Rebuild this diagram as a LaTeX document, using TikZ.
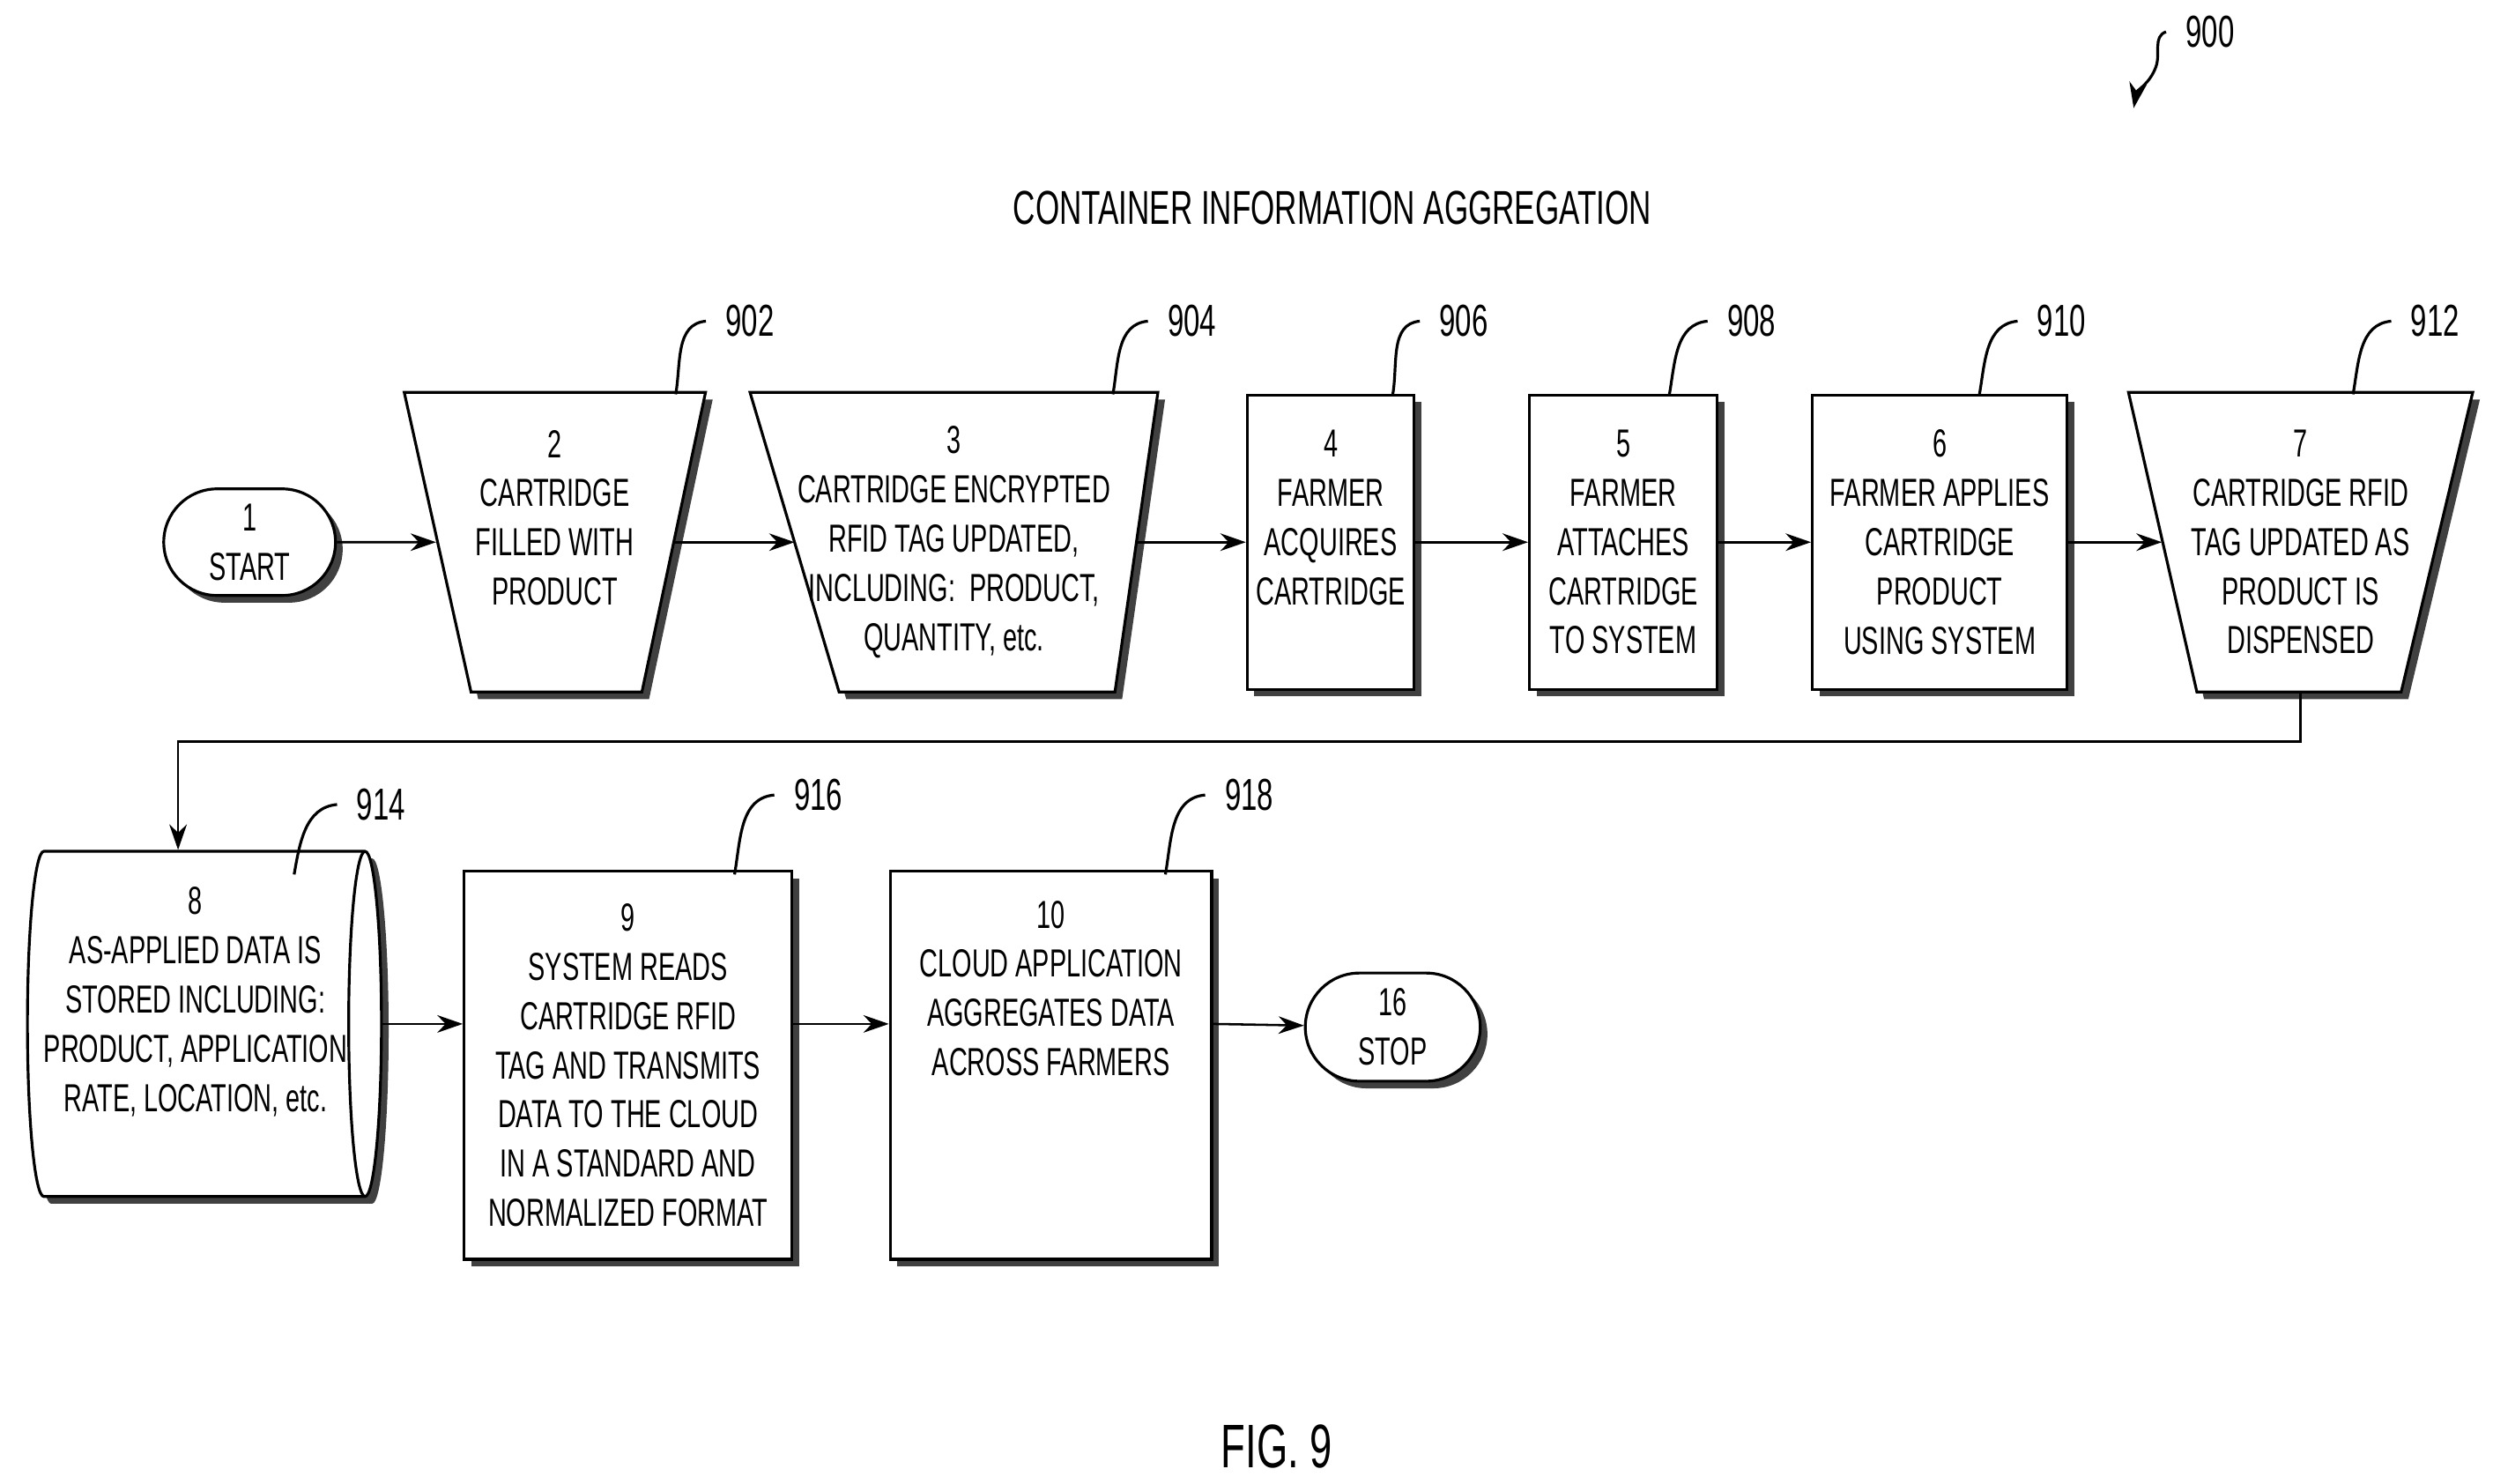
\documentclass[tikz,border=0pt]{standalone}
\usepackage{fontspec}
\setmainfont{Liberation Sans}[FakeStretch=0.65]
\usetikzlibrary{shapes.geometric,shapes.misc,positioning,shadows,arrows.meta,backgrounds}

\begin{document}
\begin{tikzpicture}[x=0.01cm,y=-0.01cm,
            font=\fontsize{7}{8.8}\selectfont,
            >={Stealth[length=1.6mm,width=1.1mm]},
            sh/.style = {drop shadow={shadow xshift=0.45mm,shadow yshift=-0.45mm,
                opacity=1,fill=black!75}},
            box/.style = {draw,fill=white,sh,align=center,inner sep=1pt,line width=0.5pt},
            term/.style = {box,rounded rectangle},
            slot/.style = {align=center,inner sep=0pt},
            ref/.style = {font=\fontsize{8}{9}\selectfont},
            lead/.style = {line width=0.5pt}]
            \useasboundingbox (0,0) rectangle (1568,933);
            % top row
            \node[term,minimum width=1.15cm,minimum height=0.67cm] (start) at (157,341) {1\\START};
            \node[slot,minimum width=1.88cm,minimum height=1.87cm] (t2) at (349,341)
                {2\\CARTRIDGE\\FILLED WITH\\PRODUCT\\\mbox{}};
            \node[slot,minimum width=2.55cm,minimum height=1.87cm] (t3) at (600,341)
                {3\\CARTRIDGE ENCRYPTED\\RFID TAG UPDATED,\\INCLUDING:\ \ PRODUCT,\\QUANTITY, etc.};
            \node[box,minimum width=1.05cm,minimum height=1.85cm] (b4) at (837,341)
                {4\\FARMER\\ACQUIRES\\CARTRIDGE\\\mbox{}};
            \node[box,minimum width=1.18cm,minimum height=1.85cm] (b5) at (1021,341)
                {5\\FARMER\\ATTACHES\\CARTRIDGE\\TO SYSTEM};
            \node[box,minimum width=1.60cm,minimum height=1.85cm] (b6) at (1220,341)
                {6\\FARMER APPLIES\\CARTRIDGE\\PRODUCT\\USING SYSTEM};
            \node[slot,minimum width=2.15cm,minimum height=1.87cm] (t7) at (1447,341)
                {7\\CARTRIDGE RFID\\TAG UPDATED AS\\PRODUCT IS\\DISPENSED};
            \begin{scope}[on background layer]
                \draw[box] (t2.north west) -- (t2.north east) -- ([xshift=-0.40cm]t2.south east)
                    -- ([xshift=0.42cm]t2.south west) -- cycle;
                \draw[box] (t3.north west) -- (t3.north east) -- ([xshift=-0.27cm]t3.south east)
                    -- ([xshift=0.56cm]t3.south west) -- cycle;
                \draw[box] (t7.north west) -- (t7.north east) -- ([xshift=-0.45cm]t7.south east)
                    -- ([xshift=0.43cm]t7.south west) -- cycle;
            \end{scope}
            % bottom row
            \node[box,cylinder,inner sep=0pt,shape aspect=0.12,minimum width=2.17cm,minimum height=1.92cm] (c8) at (123,644)
                {8\\AS-APPLIED DATA IS\\STORED INCLUDING:\\PRODUCT, APPLICATION\\RATE, LOCATION, etc.\\\mbox{}};
            \node[box,minimum width=2.06cm,minimum height=2.44cm] (b9) at (395,670)
                {9\\SYSTEM READS\\CARTRIDGE RFID\\TAG AND TRANSMITS\\DATA TO THE CLOUD\\IN A STANDARD AND\\NORMALIZED FORMAT};
            \node[box,minimum width=2.02cm,minimum height=2.44cm,
                label={[align=center,anchor=north,yshift=-0.07cm]north:10\\CLOUD APPLICATION\\AGGREGATES DATA\\ACROSS FARMERS}]
                (b10) at (661,670) {};
            \node[term,minimum width=1.17cm,minimum height=0.68cm] (stop) at (876,646) {16\\STOP};
            % connectors
            \draw[->] (start) -- ([xshift=0.20cm]t2.west);
            \draw[->] ([xshift=-0.20cm]t2.east) -- ([xshift=0.28cm]t3.west);
            \draw[->] ([xshift=-0.14cm]t3.east) -- (b4);
            \draw[->] (b4) -- (b5);
            \draw[->] (b5) -- (b6);
            \draw[->] (b6) -- ([xshift=0.21cm]t7.west);
            \draw[->] (t7.south) -- ++(0,31) -| ([xshift=-0.11cm]c8.north);
            \draw[->] (c8.east) -- (c8.east -| b9.west);
            \draw[->] (c8.east -| b9.east) -- (c8.east -| b10.west);
            \draw[->] (c8.east -| b10.east) -- (stop);
            % reference numerals
            \foreach \n/\x/\y/\lx/\ly in {902/425/248/444/202, 904/700/248/722/202,
                906/876/248/893/202, 908/1050/248/1074/202, 910/1245/248/1269/202,
                912/1480/248/1504/202, 914/185/550/212/506, 916/462/550/487/500,
                918/733/550/758/500} {
                \node[ref,anchor=west] (r\n) at (\lx,\ly) {\n};
                \coordinate (c\n) at (\x,\y);
                \draw[lead] (c\n) to[out=80,in=185] (r\n.west);
            }
            \node[ref] (r900) at (1390,20) {900};
            \coordinate (p900) at (1342,68);
            \draw[lead,->] (r900.west) to[out=200,in=70] (1356,42) to[out=250,in=80] (p900);
            \node[font=\fontsize{8.5}{10}\selectfont] (title) at (838,131) {CONTAINER INFORMATION AGGREGATION};
            \node[font=\fontsize{11}{12}\selectfont] (fig) at (803,910) {FIG. 9};
        \end{tikzpicture}
\end{document}
